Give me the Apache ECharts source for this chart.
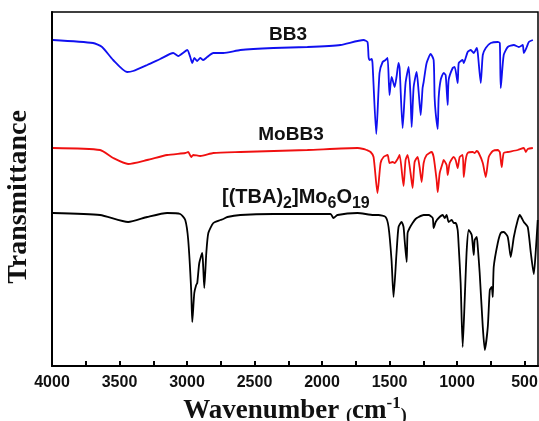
<!DOCTYPE html>
<html>
<head>
<meta charset="utf-8">
<script src="https://cdn.jsdelivr.net/npm/echarts@6/dist/echarts.min.js"></script>
<style>html,body{margin:0;padding:0;background:#fff}#c{width:539px;height:421px}</style>
</head>
<body>
<div id="c"></div>
<script>
// Wavenumber (cm-1) and transmittance (a.u., offset spectra)
const bb3Wavenumber = [3993,3696,3629,3547,3444,3399,3295,3199,3102,3065,2998,2976,2961,2946,2924,2902,2880,2850,2805,2731,2605,2360,2108,1863,1692,1663,1655,1648,1633,1626,1598,1574,1551,1529,1514,1500,1485,1477,1462,1448,1433,1425,1403,1381,1358,1344,1336,1321,1299,1284,1269,1255,1247,1225,1195,1173,1166,1158,1143,1136,1121,1099,1084,1069,1062,1032,1017,995,987,958,950,921,898,876,854,846,824,809,787,750,698,683,676,654,624,579,542,513,505,483,468,438];
const bb3Values = [326,323,319,306,294,295,301,307,313,310,316,309,303,308,305,308,306,309,313,313,316,318,319,321,326,324,309,306,307,303,232,293,304,306,308,271,289,286,279,289,303,298,238,283,299,269,239,279,294,274,251,278,284,303,312,306,269,253,237,268,286,293,291,261,286,298,299,283,303,306,303,314,316,313,318,313,283,311,318,323,324,323,278,311,319,321,319,321,313,319,324,326];

const mobb3Wavenumber = [3993,3644,3547,3436,3295,3147,3013,2991,2969,2954,2902,2805,2605,2108,1737,1692,1670,1640,1618,1589,1566,1544,1514,1500,1477,1462,1440,1425,1396,1381,1366,1344,1329,1314,1292,1277,1262,1247,1225,1188,1173,1151,1143,1128,1106,1099,1077,1069,1054,1025,1010,995,980,958,950,936,921,884,869,854,839,809,787,765,735,698,683,669,654,624,550,505,490,476,438];
const mobb3Values = [218,216,208,202,206,211,213,214,209,211,210,213,214,216,218,217,216,214,209,173,203,209,211,203,204,203,207,211,180,206,211,193,178,204,209,199,184,203,211,214,209,186,174,193,203,206,201,191,203,209,206,198,209,211,189,206,213,214,213,215,213,203,189,209,215,216,214,199,213,214,216,218,214,217,218];

const tbaWavenumber = [3993,3644,3436,3295,3147,3050,3013,2991,2969,2961,2946,2932,2924,2909,2887,2880,2872,2857,2842,2805,2753,2731,2701,2605,2360,1937,1915,1885,1737,1618,1581,1529,1507,1485,1470,1448,1433,1410,1396,1388,1373,1366,1351,1329,1307,1284,1247,1210,1180,1173,1158,1136,1106,1091,1077,1062,1039,1025,1010,995,987,973,958,943,928,913,891,876,869,854,846,832,809,794,772,757,743,735,728,698,676,654,624,602,579,550,535,505,476,453,431,416,402];
const tbaValues = [153,151,144,149,153,152,146,126,76,44,73,81,83,103,113,99,78,113,133,143,146,147,149,151,152,152,148,151,153,151,151,149,139,106,69,113,139,144,139,126,104,133,138,143,147,149,151,151,148,138,144,148,151,148,151,144,146,143,143,136,119,83,19,66,116,136,131,111,126,129,119,93,39,16,39,76,79,69,99,123,133,134,129,109,129,146,151,144,139,113,92,116,146];

const xTickValues = [4000,3500,3000,2500,2000,1500,1000,500];
const xMinorTickValues = [4000,3750,3500,3250,3000,2750,2500,2250,2000,1750,1500,1250,1000,750,500];

const seriesNames = ['BB3','MoBB3','[(TBA)2]Mo6O19'];
const seriesColors = ['#1010f0','#f01010','#000000'];

function zip(a, b) { return a.map((v, i) => [v, b[i]]); }

const chart = echarts.init(document.getElementById('c'), null, {renderer: 'canvas'});
const dataSets = [zip(bb3Wavenumber, bb3Values), zip(mobb3Wavenumber, mobb3Values), zip(tbaWavenumber, tbaValues)];
const serif = '"Liberation Serif", "Times New Roman", serif';
const sans = '"Liberation Sans", Arial, sans-serif';

chart.setOption({
  animation: false,
  backgroundColor: '#fff',
  grid: {left: 52, right: 1, top: 12, bottom: 55, containLabel: false, outerBoundsMode: 'none', show: true, borderColor: '#000', borderWidth: 1.5, backgroundColor: 'transparent'},
  xAxis: {
    type: 'value', inverse: true, min: 400, max: 4000,
    axisLine: {show: true, lineStyle: {color: '#000', width: 2}},
    axisTick: {show: true, inside: true, length: 5, customValues: xMinorTickValues, lineStyle: {color: '#000', width: 2}},
    axisLabel: {customValues: xTickValues, formatter: v => String(v), color: '#111', fontFamily: sans, fontWeight: 'bold', fontSize: 16, margin: 9, hideOverlap: false},
    splitLine: {show: false}
  },
  yAxis: {
    type: 'value', min: 0, max: 354,
    axisLine: {show: true, lineStyle: {color: '#000', width: 2}},
    axisTick: {show: false}, axisLabel: {show: false}, splitLine: {show: false}
  },
  series: dataSets.map((d, i) => ({
    name: seriesNames[i], type: 'line', data: d, showSymbol: false, symbol: 'none',
    lineStyle: {color: seriesColors[i], width: 1.8}, smooth: 0.2
  })),
  graphic: [
    {type: 'text', x: 19, y: 197, rotation: Math.PI / 2, style: {text: 'Transmittance', font: 'bold 28px ' + serif, fill: '#111', align: 'center', verticalAlign: 'middle'}},
    {type: 'text', x: 295, y: 395, style: {
      text: '{a|Wavenumber }{p|(}{a|cm}{s|-1}{p|)}', align: 'center', verticalAlign: 'top',
      rich: {
        a: {font: 'bold 27px ' + serif, fill: '#111', lineHeight: 30, verticalAlign: 'bottom'},
        p: {font: 'bold 18px ' + serif, fill: '#111', lineHeight: 30, verticalAlign: 'bottom'},
        s: {font: 'bold 17px ' + serif, fill: '#111', lineHeight: 14, verticalAlign: 'top'}
      }
    }},
    {type: 'text', x: 288, y: 35, style: {text: 'BB3', font: 'bold 19px ' + sans, fill: '#111', align: 'center', verticalAlign: 'middle'}},
    {type: 'text', x: 291, y: 135, style: {text: 'MoBB3', font: 'bold 19px ' + sans, fill: '#111', align: 'center', verticalAlign: 'middle'}},
    {type: 'text', x: 222, y: 187, style: {
      text: '{m|[(TBA)}{s|2}{m|]Mo}{s|6}{m|O}{s|19}', align: 'left', verticalAlign: 'top',
      rich: {
        m: {font: 'bold 20px ' + sans, fill: '#111', lineHeight: 24, verticalAlign: 'top'},
        s: {font: 'bold 16px ' + sans, fill: '#111', lineHeight: 24, verticalAlign: 'top', padding: [9, 0, 0, 0]}
      }
    }}
  ]
});
</script>
</body>
</html>
